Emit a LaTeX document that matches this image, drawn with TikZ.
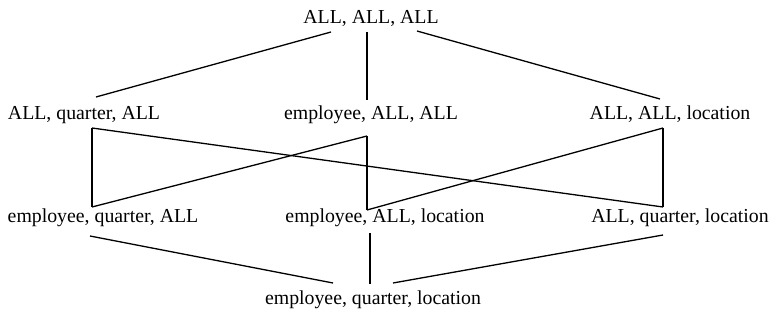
\documentclass[tikz,border=0pt]{standalone}
\usepackage{fontspec}
\setmainfont{Liberation Serif}
\begin{document}
\begin{tikzpicture}[x=1pt,y=-1pt,
  lbl/.style={anchor=base,inner sep=0pt,font=\fontsize{19.8}{22}\selectfont},
  edge/.style={line width=1.3pt}]
\useasboundingbox (0,0) rectangle (774,321);
\node[lbl] (t) at (371,24) {ALL, ALL, ALL};
\node[lbl] (aqa) at (84,119) {ALL, quarter, ALL};
\node[lbl] (eaa) at (371,119) {employee, ALL, ALL};
\node[lbl] (aal) at (670,119) {ALL, ALL, location};
\node[lbl] (eqa) at (103,222) {employee, quarter, ALL};
\node[lbl] (eal) at (385,222) {employee, ALL, location};
\node[lbl] (aql) at (680,222) {ALL, quarter, location};
\node[lbl] (eql) at (373,304) {employee, quarter, location};
% attach points
\coordinate (t1) at (331,32);
\coordinate (t2) at (367,32);
\coordinate (t3) at (417,31);
\coordinate (aqaT) at (96,97);
\coordinate (eaaT) at (367,100);
\coordinate (aalT) at (660,99);
\coordinate (aqaB) at (92,128);
\coordinate (eaaB) at (367,136);
\coordinate (aalB) at (663,128);
\coordinate (eqaT) at (92,207);
\coordinate (ealT) at (367,210);
\coordinate (aqlT) at (663,207);
\coordinate (eqaB) at (90,236);
\coordinate (ealB) at (370,233);
\coordinate (aqlB) at (663,235);
\coordinate (b1) at (333,283);
\coordinate (b2) at (370,284);
\coordinate (b3) at (393,283);
\draw[edge] (t1) -- (aqaT);
\draw[edge] (t2) -- (eaaT);
\draw[edge] (t3) -- (aalT);
\draw[edge] (aqaB) -- (eqaT);
\draw[edge] (aqaB) -- (aqlT);
\draw[edge] (eaaB) -- (eqaT);
\draw[edge] (eaaB) -- (ealT);
\draw[edge] (aalB) -- (ealT);
\draw[edge] (aalB) -- (aqlT);
\draw[edge] (eqaB) -- (b1);
\draw[edge] (ealB) -- (b2);
\draw[edge] (aqlB) -- (b3);
\end{tikzpicture}
\end{document}
